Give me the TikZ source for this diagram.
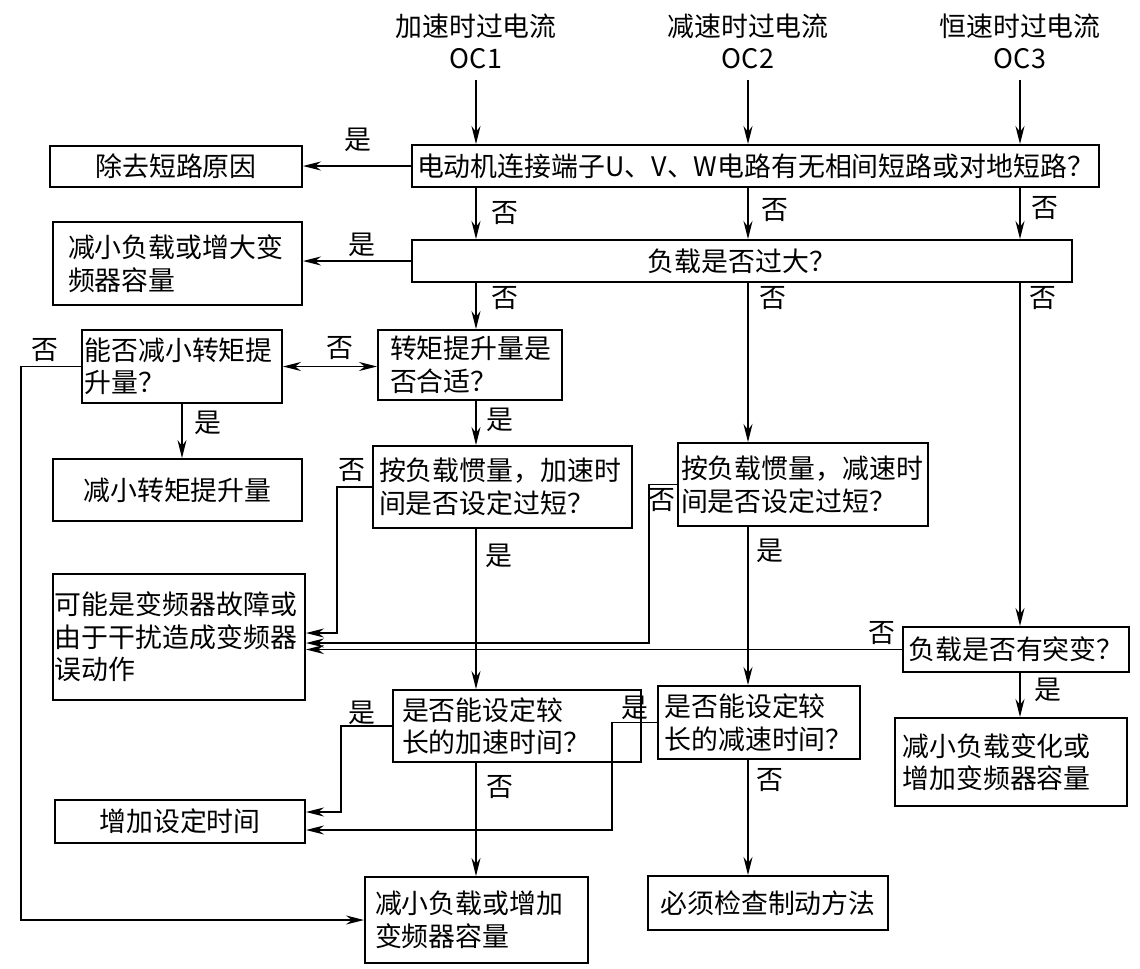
\documentclass[tikz,border=0pt]{standalone}
\usepackage{fontspec}
\setmainfont{Noto Sans CJK SC}
\usetikzlibrary{arrows.meta}

\begin{document}
\begin{tikzpicture}[
    font=\fontsize{15.3}{18.5}\selectfont,
    box/.style={draw, line width=1.1pt, align=center, inner sep=0.1cm},
    lbox/.style={draw, line width=1.1pt, align=left, inner xsep=0.15cm, inner ysep=0.05cm},
    lab/.style={inner sep=0pt},
    arr/.style={-{Stealth[length=3.6mm,width=1.8mm]}, line width=1.1pt},
    darr/.style={{Stealth[length=3.6mm,width=1.8mm]}-{Stealth[length=3.6mm,width=1.8mm]}, line width=1.1pt}
  ]
  \useasboundingbox (0,0) rectangle (22.8,-19.36);

  % inputs
  \node[lab, align=center] (t1) at (9.52,-0.83)  {加速时过电流\\OC1};
  \node[lab, align=center] (t2) at (14.96,-0.83) {减速时过电流\\OC2};
  \node[lab, align=center] (t3) at (20.40,-0.83) {恒速时过电流\\OC3};

  % boxes
  \node[box, minimum width=13.7cm, minimum height=0.84cm] (sc) at (15.11,-3.32) {电动机连接端子U、V、W电路有无相间短路或对地短路？};
  \node[box, minimum width=5.04cm, minimum height=0.82cm] (rm) at (3.52,-3.33) {除去短路原因};
  \node[box, minimum width=13.2cm, minimum height=0.84cm] (ld) at (14.84,-5.22) {负载是否过大？};
  \node[lbox, text width=4.38cm, inner xsep=0.3cm, minimum height=1.66cm] (rl) at (3.55,-5.27) {减小负载或增大变\\频器容量};
  \node[lbox, text width=3.9cm, inner xsep=0.05cm, minimum height=1.46cm] (cr) at (3.64,-7.33) {能否减小转矩提\\升量？};
  \node[lbox, text width=3.2cm, inner xsep=0.24cm, minimum height=1.40cm] (tq) at (9.40,-7.30) {转矩提升量是\\否合适？};
  \node[box, minimum width=4.98cm, minimum height=1.24cm] (rt) at (3.55,-9.80) {减小转矩提升量};
  \node[lbox, text width=4.94cm, inner xsep=0.12cm, minimum height=1.64cm] (ac) at (10.05,-9.74) {按负载惯量，加速时\\间是否设定过短？};
  \node[lbox, text width=4.88cm, inner xsep=0.06cm, minimum height=1.66cm] (dc) at (16.06,-9.69) {按负载惯量，减速时\\间是否设定过短？};
  \node[lbox, text width=4.96cm, inner xsep=0.04cm, minimum height=2.52cm] (ft) at (3.58,-12.74) {可能是变频器故障或\\由于干扰造成变频器\\误动作};
  \node[box, minimum width=4.4cm, minimum height=0.9cm] (sv) at (20.32,-12.99) {负载是否有突变？};
  \node[lbox, text width=4.60cm, inner xsep=0.18cm, minimum height=1.44cm] (al) at (10.34,-14.52) {是否能设定较\\长的加速时间？};
  \node[lbox, text width=3.78cm, inner xsep=0.13cm, minimum height=1.46cm] (dl) at (15.18,-14.45) {是否能设定较\\长的减速时间？};
  \node[lbox, text width=4.34cm, minimum height=1.76cm] (rv) at (20.22,-15.24) {减小负载变化或\\增加变频器容量};
  \node[box, minimum width=5.0cm, minimum height=0.86cm] (it) at (3.60,-16.43) {增加设定时间};
  \node[lbox, text width=4.06cm, inner xsep=0.2cm, minimum height=1.72cm] (rc) at (9.53,-18.40) {减小负载或增加\\变频器容量};
  \node[box, minimum width=4.8cm, minimum height=1.08cm] (br) at (15.36,-18.06) {必须检查制动方法};

  % yes / no labels
  \node[lab] (yes1) at (7.16,-2.80) {是};
  \node[lab] (no1) at (10.10,-4.26) {否};
  \node[lab] (no2) at (15.50,-4.20) {否};
  \node[lab] (no3) at (20.90,-4.16) {否};
  \node[lab] (yes2) at (7.24,-4.90) {是};
  \node[lab] (no4) at (10.10,-5.96) {否};
  \node[lab] (no5) at (15.46,-5.96) {否};
  \node[lab] (no6) at (20.86,-5.96) {否};
  \node[lab] (no7) at (6.80,-6.96) {否};
  \node[lab] (no8) at (0.90,-7.00) {否};
  \node[lab] (yes3) at (4.16,-8.46) {是};
  \node[lab] (yes4) at (10.00,-8.40) {是};
  \node[lab] (no9) at (7.04,-9.40) {否};
  \node[lab] (no10) at (13.24,-10.00) {否};
  \node[lab] (yes5) at (9.98,-11.12) {是};
  \node[lab] (yes6) at (15.40,-11.02) {是};
  \node[lab] (no11) at (17.64,-12.66) {否};
  \node[lab] (yes7) at (20.96,-13.80) {是};
  \node[lab] (yes8) at (7.24,-14.26) {是};
  \node[lab] (yes9) at (12.70,-14.16) {是};
  \node[lab] (no12) at (10.00,-15.74) {否};
  \node[lab] (no13) at (15.40,-15.60) {否};

  % connectors
  \draw[arr] ([yshift=-0.2cm]t1.south) -- (t1.south |- sc.north);
  \draw[arr] ([yshift=-0.2cm]t2.south) -- (t2.south |- sc.north);
  \draw[arr] ([yshift=-0.2cm]t3.south) -- (t3.south |- sc.north);
  \draw[arr] (sc.west) -- (sc.west -| rm.east);
  \draw[arr] (sc.south -| t1) -- (ld.north -| t1);
  \draw[arr] (sc.south -| t2) -- (ld.north -| t2);
  \draw[arr] (sc.south -| t3) -- (ld.north -| t3);
  \draw[arr] (ld.west) -- (ld.west -| rl.east);
  \draw[arr] (ld.south -| t1) -- (tq.north -| t1);
  \draw[arr] (ld.south -| t2) -- (dc.north -| t2);
  \draw[arr] (ld.south -| t3) -- (sv.north -| t3);
  \draw[darr] (cr.east) -- (cr.east -| tq.west);
  \draw[arr] (cr.south) -- (cr.south |- rt.north);
  \draw[arr] (cr.west) -- ++(-1.2,0) |- (rc.west);
  \draw[arr] (tq.south -| t1) -- (ac.north -| t1);
  \draw[arr] (ac.west) -- ++(-0.7,0) |- ([yshift=0.08cm]ft.east);
  \draw[arr] (dc.west) -- ++(-0.56,0) |- ([yshift=-0.12cm]ft.east);
  \draw[arr] (sv.west) -- (sv.west -| ft.east);
  \draw[arr] (ac.south -| t1) -- (al.north -| t1);
  \draw[arr] (al.west) -- ++(-1.02,0) |- ([yshift=0.19cm]it.east);
  \draw[arr] (al.south -| t1) -- (rc.north -| t1);
  \draw[arr] (dc.south -| t2) -- (dl.north -| t2);
  \draw[arr] (dl.west) -- ++(-0.9,0) |- ([yshift=-0.17cm]it.east);
  \draw[arr] (dl.south -| t2) -- (br.north -| t2);
  \draw[arr] (sv.south -| t3) -- (rv.north -| t3);
\end{tikzpicture}
\end{document}
